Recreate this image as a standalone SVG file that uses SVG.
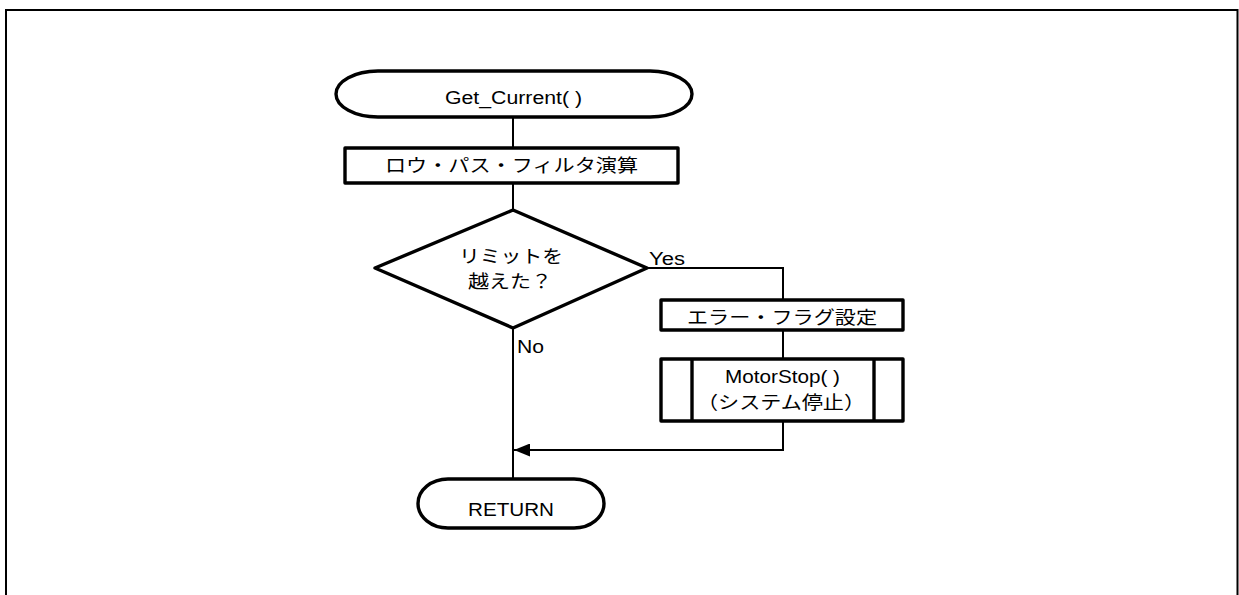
<svg xmlns="http://www.w3.org/2000/svg" width="1239" height="595" viewBox="0 0 1239 595">
<style>
.s{fill:#fff;stroke:#000;stroke-width:3.4;stroke-linejoin:round}
.c{fill:none;stroke:#000;stroke-width:2}
.t{font-family:"Liberation Sans","Noto Sans CJK JP",sans-serif;font-size:18px;fill:#000}
</style>
<defs>
<marker id="ah" markerWidth="16" markerHeight="13" refX="16" refY="6.5" orient="auto" markerUnits="userSpaceOnUse">
<path d="M0,0 L16,6.5 L0,13 Z" fill="#000"/>
</marker>
</defs>
<rect width="1239" height="595" fill="#fff"/>
<path d="M6,595 V10 H1237.5 V595" fill="none" stroke="#000" stroke-width="2"/>
<g id="connectors">
<path class="c" d="M513,117 V148"/>
<path class="c" d="M513,183 V210"/>
<path class="c" d="M513,328 V479"/>
<path class="c" d="M647,268 H783 V300"/>
<path class="c" d="M783,330 V359"/>
<path class="c" d="M783,421 V450 H514" marker-end="url(#ah)"/>
</g>
<g id="start">
<path class="s" d="M378,71 H650 A42,23 0 0 1 650,117 H378 A42,23 0 0 1 378,71 Z"/>
<text class="t" x="445" y="104" textLength="137" lengthAdjust="spacingAndGlyphs">Get_Current( )</text>
</g>
<g id="lpf">
<rect class="s" x="345" y="148" width="333" height="35"/>
<text class="t" x="385" y="172" textLength="253" lengthAdjust="spacingAndGlyphs">ロウ・パス・フィルタ演算</text>
</g>
<g id="decision">
<path class="s" d="M513,210 L647,268 L513,328 L375,268 Z"/>
<text class="t" x="459" y="263" textLength="104" lengthAdjust="spacingAndGlyphs">リミットを</text>
<text class="t" x="468" y="288" textLength="84" lengthAdjust="spacingAndGlyphs">越えた？</text>
</g>
<g id="errflag">
<rect class="s" x="661" y="300" width="242" height="30"/>
<text class="t" x="687" y="324" textLength="190" lengthAdjust="spacingAndGlyphs">エラー・フラグ設定</text>
</g>
<g id="motorstop">
<rect class="s" x="661" y="359" width="242" height="62"/>
<line class="s" x1="692" y1="359" x2="692" y2="421"/>
<line class="s" x1="874" y1="359" x2="874" y2="421"/>
<text class="t" x="725" y="383" textLength="115" lengthAdjust="spacingAndGlyphs">MotorStop( )</text>
<text class="t" x="697" y="409" textLength="168" lengthAdjust="spacingAndGlyphs">（システム停止）</text>
</g>
<g id="return">
<path class="s" d="M448,479 H574 A30,24.5 0 0 1 574,528 H448 A30,24.5 0 0 1 448,479 Z"/>
<text class="t" x="468" y="516" textLength="86" lengthAdjust="spacingAndGlyphs">RETURN</text>
</g>
<g id="labels">
<text class="t" x="649" y="265" textLength="36" lengthAdjust="spacingAndGlyphs">Yes</text>
<text class="t" x="517" y="353" textLength="27" lengthAdjust="spacingAndGlyphs">No</text>
</g>
</svg>
